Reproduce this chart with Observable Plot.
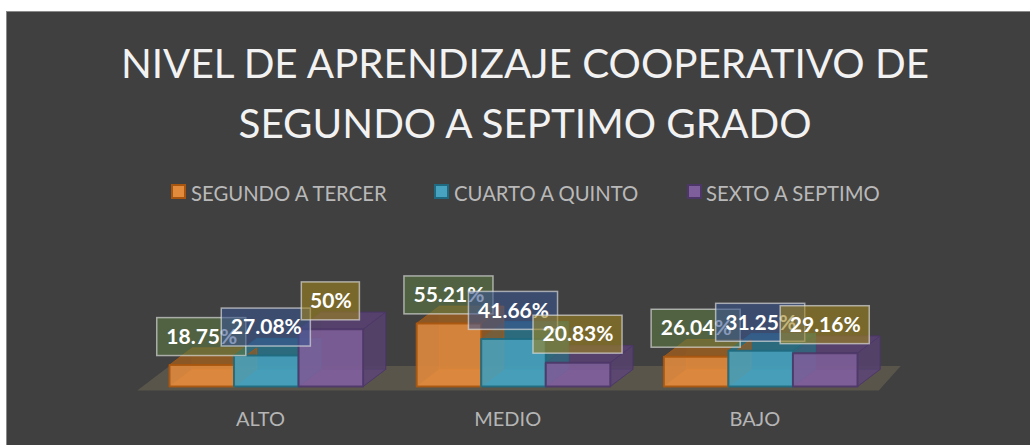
<!DOCTYPE html>
<html><head><meta charset="utf-8">
<script src="https://cdn.jsdelivr.net/npm/d3@7"></script>
<script src="https://cdn.jsdelivr.net/npm/@observablehq/plot@0.6"></script>
<style>
html,body{margin:0;padding:0;background:#fff;}
body{width:1030px;height:445px;overflow:hidden;position:relative;}
#panel{position:absolute;left:6px;top:11px;width:1030px;height:440px;background:#404040;border:1px solid #8a8a8a;box-sizing:border-box;font-family:Lato,sans-serif;overflow:hidden;}
#title{position:absolute;left:0;width:1036px;top:21px;text-align:center;color:#f2f2f2;font:400 40.4px/60px Lato,sans-serif;margin:0;}
#legend span.l{position:absolute;top:167px;color:#b9b9b9;font-size:20.3px;line-height:28px;white-space:nowrap;}
#legend i{position:absolute;top:172px;width:11px;height:11px;border:2px solid;}
#chart{position:absolute;left:-7px;top:213px;width:1030px;}
#chart svg{max-width:none;}
</style></head><body>
<div id="panel">
<h1 id="title">NIVEL DE APRENDIZAJE COOPERATIVO DE<br>SEGUNDO A SEPTIMO GRADO</h1>
<div id="legend"></div>
<div id="chart"></div>
</div>
<script>
const categories = ["ALTO", "MEDIO", "BAJO"];
const seriesNames = ["SEGUNDO A TERCER", "CUARTO A QUINTO", "SEXTO A SEPTIMO"];
const segundo = [18.75, 55.21, 26.04];
const cuarto = [27.08, 41.66, 31.25];
const sexto = [50, 20.83, 29.16];
const labelsSegundo = ["18.75%", "55.21%", "26.04%"];
const labelsCuarto = ["27.08%", "41.66%", "31.25%"];
const labelsSexto = ["50%", "20.83%", "29.16%"];

const front = ["#e38b3d", "#47a3bf", "#7f5f9b"];
const edge = ["#a8560f", "#1f6a80", "#4c3768"];
const shade = ["#8f5a24", "#2c6d80", "#55416d"];
const boxFill = ["#5c7a45", "#3a5590", "#9f8420"];

const step = 3.83, dx = 0.35, dy = 15;
const series = [segundo, cuarto, sexto];
const labels = [labelsSegundo, labelsCuarto, labelsSexto];
const bars = [];
categories.forEach((c, i) => series.forEach((vals, j) => {
  bars.push({c, j, v: vals[i], x0: i * step + j, x1: i * step + j + 1, label: labels[j][i]});
}));
const poly = (id, j, pts) => [...pts, pts[0]].map(([x, y]) => ({id, j, x, y}));
const faces = {back: [], floorSide: [], top: [], side: [], front: []};
bars.forEach((b, k) => {
  const {x0, x1, v, j} = b;
  faces.back.push(...poly("b" + k, j, [[x0 + dx, dy], [x1 + dx, dy], [x1 + dx, v + dy], [x0 + dx, v + dy]]));
  faces.floorSide.push(...poly("f" + k, j, [[x0, 0], [x1, 0], [x1 + dx, dy], [x0 + dx, dy]]));
  faces.top.push(...poly("t" + k, j, [[x0, v], [x1, v], [x1 + dx, v + dy], [x0 + dx, v + dy]]));
  faces.side.push(...poly("s" + k, j, [[x1, 0], [x1 + dx, dy], [x1 + dx, v + dy], [x1, v]]));
  faces.front.push(...poly("n" + k, j, [[x0, 0], [x1, 0], [x1, v], [x0, v]]));
});
const floor = poly("floor", 0, [[-0.5, -3.5], [3 * step - 0.83 + 0.33, -3.5], [3 * step - 0.83 + 0.67, dy + 3], [0, dy + 3]]);
const boxW = s => s.length > 3 ? 1.38 : 0.9;
const boxes = bars.map(b => {
  const cx = (b.x0 + b.x1) / 2, cy = b.v + 24.5;
  return {...b, cx, cy, l: cx - boxW(b.label) / 2, r: cx + boxW(b.label) / 2, b: cy - 16.6, t: cy + 16.6};
});
const tickPos = categories.map((c, i) => i * step + 1.41);
const faceMark = (data, fillArr, op, sw) => Plot.line(data, {x: "x", y: "y", z: "id", curve: "linear",
  fill: d => fillArr[d.j], fillOpacity: op, stroke: d => edge[d.j], strokeWidth: sw, strokeOpacity: 0.9, strokeLinejoin: "round"});
const labelMarks = [0, 1, 2].flatMap(j => {
  const row = boxes.filter(d => d.j === j);
  return [
    Plot.rect(row, {x1: "l", x2: "r", y1: "b", y2: "t", fill: d => boxFill[d.j], fillOpacity: 0.6, stroke: "#e0e0e0", strokeOpacity: 0.65, strokeWidth: 1.5}),
    Plot.text(row, {x: "cx", y: "cy", text: "label", fill: "#fff", fontSize: 21, fontWeight: 700, fontFamily: "Lato, sans-serif"})
  ];
});

const chart = Plot.plot({
  width: 1030, height: 214, marginTop: 0, marginBottom: 53, marginLeft: 169, marginRight: 173,
  x: {domain: [0, 2 * step + 3], axis: null},
  y: {domain: [0, 140], range: [161, 1], axis: null},
  color: {type: "identity"},
  style: {background: "transparent", overflow: "visible"},
  marks: [
    Plot.line(floor, {x: "x", y: "y", z: "id", fill: "#59554b", stroke: "none"}),
    faceMark(faces.back, shade, 0.55, 0.7),
    faceMark(faces.floorSide, front, 0.55, 0.5),
    faceMark(faces.top, shade, 0.95, 1),
    faceMark(faces.side, shade, 0.75, 1),
    faceMark(faces.front, front, 0.88, 2),
    ...labelMarks,
    Plot.axisX(tickPos, {anchor: "bottom", y: 0, tickSize: 0, tickPadding: 25, tickFormat: (d, i) => categories[i], label: null, fontSize: 20, fontFamily: "Lato, sans-serif", fill: "#b5b5b5", color: "#b5b5b5"})
  ]
});
document.getElementById("chart").append(chart);

const legend = document.getElementById("legend");
const swatchX = [164, 427, 680], textX = [184, 447, 699];
seriesNames.forEach((n, j) => {
  const i = document.createElement("i");
  i.style.left = swatchX[j] + "px"; i.style.background = front[j]; i.style.borderColor = edge[j];
  legend.append(i);
  const s = document.createElement("span");
  s.className = "l"; s.style.left = textX[j] + "px"; s.textContent = n;
  legend.append(s);
});
</script></body></html>
